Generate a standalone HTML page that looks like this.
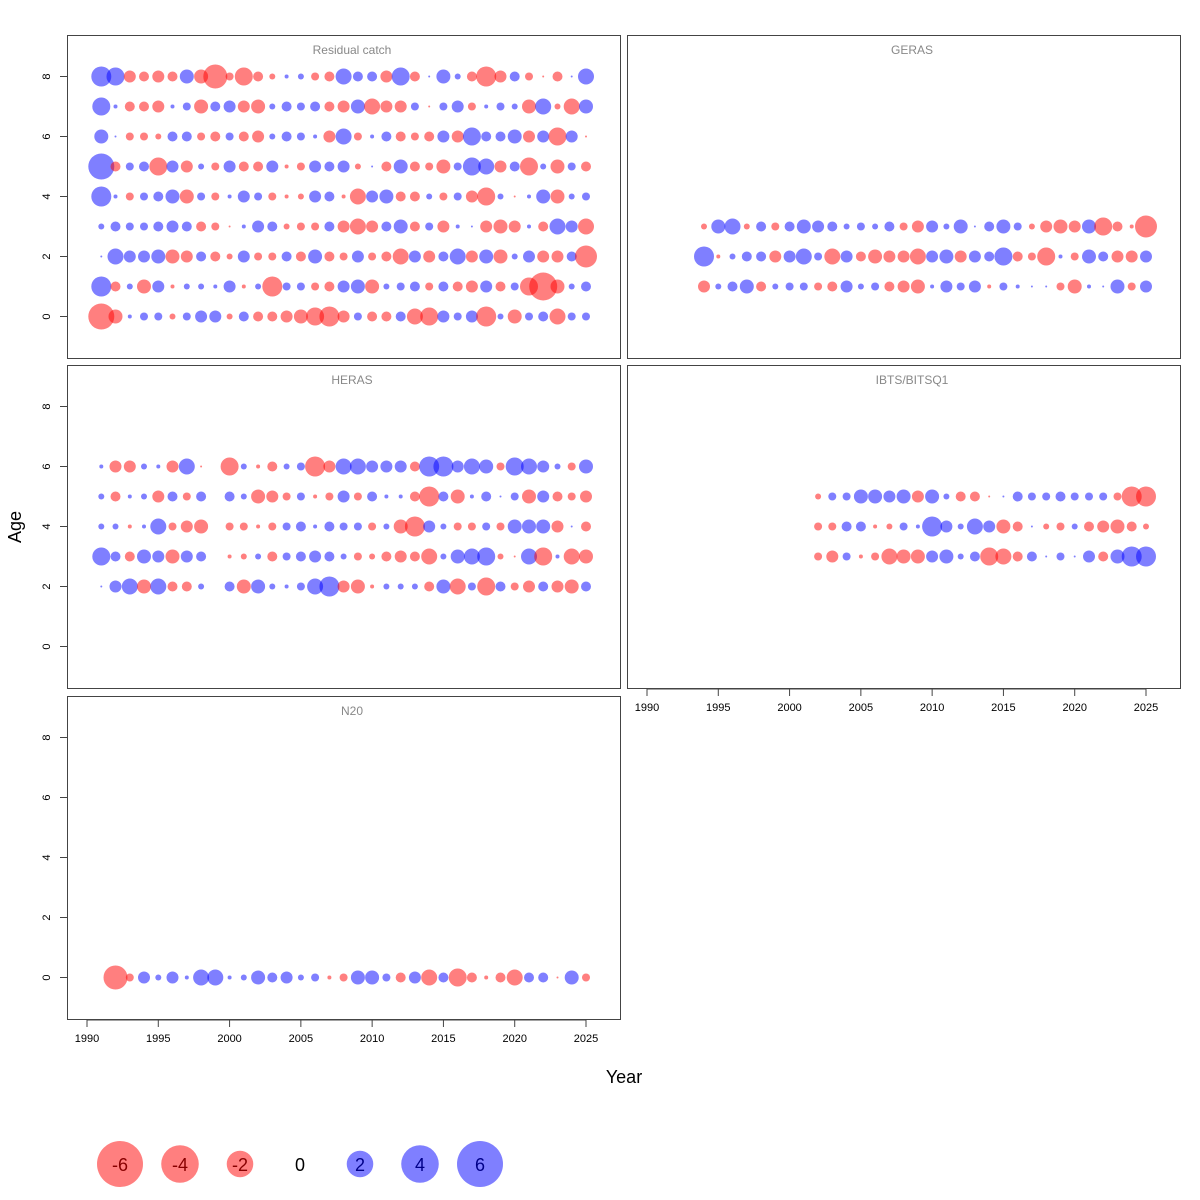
<!DOCTYPE html>
<html><head><meta charset="utf-8"><style>body{margin:0;background:#fff}svg{display:block}</style></head>
<body>
<svg id="s" width="1200" height="1200" xmlns="http://www.w3.org/2000/svg" font-family="Liberation Sans, sans-serif"></svg>
<script>
const S=document.getElementById('s');let h='';
const panels=[
 {x:67,y:35,t:'Residual catch',ax:0},{x:627,y:35,t:'GERAS',ax:0},
 {x:67,y:365,t:'HERAS',ax:0},{x:627,y:365,t:'IBTS/BITSQ1',ax:1},
 {x:67,y:696,t:'N20',ax:1}];
const W=553,H=323;
function X(p,yr){return p.x+20+(yr-1990)*499/35;}
function Y(p,a){return p.y+281.5-a*30;}
const D={};
D[0]={y0:1991,rows:{
8:[10,9,-6,-5,-6,-5,7,-7,-12,-4,-9,-5,-3,2,3,-4,-5,8,5,5,-6,9,-5,1,7,3,-5,-10,-6,5,-4,-1,-5,1,8],
7:[9,2,-5,-5,-6,2,4,-7,5,6,-6,-7,3,5,4,5,-5,-6,7,-8,-6,-6,4,-1,4,6,-4,2,4,3,-7,8,-3,-8,7],
6:[7,1,-4,-4,-3,5,5,-4,-5,4,-5,-6,3,5,4,2,-6,8,-4,2,5,-5,-4,-5,6,-6,9,5,5,7,-6,6,-9,6,-1],
5:[13,-5,4,5,-9,6,-6,3,-4,6,-5,-5,6,-2,-4,6,5,6,-3,1,-5,7,-5,-4,-7,4,9,8,-6,5,-9,3,-7,4,-5],
4:[10,2,-4,4,5,7,-7,4,-4,2,6,4,-4,-2,-3,6,5,-2,-8,6,7,-5,-5,3,-4,4,-6,-9,3,-1,2,7,-7,3,4],
3:[3,5,4,4,5,6,5,-5,-4,-1,2,6,5,-3,-4,-4,5,-6,-8,-6,5,7,-5,4,-6,2,1,-6,-7,-6,2,-5,8,6,-8],
2:[1,8,6,6,7,-7,-6,5,-5,-3,6,-4,-4,5,-5,7,-5,-4,6,-4,-5,-8,6,-6,5,8,-6,7,-7,3,6,-6,-6,5,-11],
1:[10,-5,3,-7,6,-2,3,3,2,6,-2,3,-10,4,4,-4,-5,6,7,-7,3,4,5,-4,5,-5,-6,6,-5,4,-9,-14,-7,3,5],
0:[-13,-7,2,4,4,-3,4,6,6,-3,5,-5,-5,-6,-7,-9,-10,-6,4,-5,-5,5,-8,-9,6,4,6,-10,3,-7,4,5,-8,4,4]}};
D[1]={y0:1994,rows:{
3:[-3,7,8,-3,5,-4,5,7,6,5,3,4,3,5,-4,-6,6,3,7,1,5,7,4,-3,-6,-7,-6,7,-9,-5,-2,-11],
2:[10,-2,3,5,5,-6,6,8,4,-8,6,-5,-7,-6,-6,-8,6,7,-6,6,5,9,-5,-4,-9,2,-4,7,5,-6,-6,6],
1:[-6,3,5,7,-5,3,4,4,-4,-5,6,3,4,-5,-6,-7,2,6,4,6,-2,4,2,1,1,-4,-7,2,1,7,-4,6]}};
const hy=[1991,1992,1993,1994,1995,1996,1997,1998];for(let y=2000;y<=2025;y++)hy.push(y);
D[2]={years:hy,rows:{
6:[2,-6,-6,3,2,-6,8,-1,-9,3,-2,-5,3,4,-10,-6,8,8,6,6,6,-5,10,10,6,8,7,-4,9,8,6,3,-4,7],
5:[3,-5,2,3,-6,5,-4,5,5,3,-7,-6,-4,4,-2,-4,6,-4,5,2,2,-5,-10,5,-7,2,5,1,4,-7,6,-5,-4,-6],
4:[3,3,-2,2,8,-4,-6,-7,-4,-4,-2,-4,4,5,2,5,4,4,-4,3,-7,-10,6,3,-4,-4,4,-4,7,7,7,-6,1,-5],
3:[9,5,-5,7,6,-7,6,5,-2,-3,3,-5,4,5,6,5,3,-4,-3,-5,-6,-5,-8,3,7,8,9,-3,-1,8,-9,2,-8,-7],
2:[1,6,8,-7,8,-5,-5,3,5,-7,7,3,2,4,8,10,-6,-7,-2,3,3,3,-5,7,-8,4,-9,5,-4,-6,5,-6,-7,5]}};
D[3]={y0:2002,rows:{
5:[-3,4,4,7,7,6,7,-6,7,3,-5,-5,-1,1,5,4,4,5,4,4,4,-4,-10,-10],
4:[-4,-4,5,5,-2,-3,4,2,10,6,3,8,6,-7,-5,1,-3,-4,3,-5,-6,-7,-5,-3],
3:[-4,-6,4,-2,-4,-8,-7,-7,6,7,3,5,-9,-8,-5,5,1,4,1,6,-5,7,10,10]}};
D[4]={y0:1992,rows:{0:[-12,-4,6,3,6,2,8,8,2,3,7,5,6,3,4,-2,-4,7,7,4,-5,6,-8,5,-9,-5,-2,-5,-8,5,5,-1,7,-4]}};
panels.forEach((p,i)=>{
 h+=`<rect x="${p.x+.5}" y="${p.y+.5}" width="${W}" height="${H}" fill="none" stroke="#444" stroke-width="1"/>`;
 h+=`<text x="${p.x+285}" y="${p.y+19}" font-size="12" fill="#888" text-anchor="middle">${p.t}</text>`;
 const d=D[i];
 for(const a in d.rows){d.rows[a].forEach((v,k)=>{const yr=d.years?d.years[k]:d.y0+k;const r=Math.max(Math.abs(v),0.8);
  h+=`<circle cx="${X(p,yr).toFixed(1)}" cy="${Y(p,+a)}" r="${r}" fill="${v<0?'rgba(255,0,0,0.5)':'rgba(0,0,255,0.5)'}"/>`;});}
 if(p.x<100){for(let a=0;a<=8;a+=2){const yy=Y(p,a);h+=`<line x1="60" x2="67" y1="${yy}" y2="${yy}" stroke="#444"/>`;
  h+=`<text transform="translate(47,${yy}) rotate(-90)" font-size="11" text-anchor="middle" dominant-baseline="central">${a}</text>`;}}
 if(p.ax){const by=p.y+H+1;for(let yr=1990;yr<=2025;yr+=5){const xx=X(p,yr);h+=`<line x1="${xx}" x2="${xx}" y1="${by}" y2="${by+7}" stroke="#444"/>`;
  h+=`<text x="${xx}" y="${by+22}" font-size="11" text-anchor="middle">${yr}</text>`;}
  h+=`<line x1="${X(p,1990)}" x2="${X(p,2025)}" y1="${by}" y2="${by}" stroke="#444"/>`;}
});
h+=`<text x="624" y="1083" font-size="18" text-anchor="middle">Year</text>`;
h+=`<text transform="translate(21,527) rotate(-90)" font-size="18" text-anchor="middle">Age</text>`;
[-6,-4,-2,0,2,4,6].forEach((v,k)=>{const x=120+k*60,r=23*Math.sqrt(Math.abs(v)/6);
 if(v)h+=`<circle cx="${x}" cy="1164" r="${r}" fill="${v<0?'rgba(255,0,0,0.5)':'rgba(0,0,255,0.5)'}"/>`;
 h+=`<text x="${x}" y="1171" font-size="18" text-anchor="middle" fill="${v<0?'#800':v>0?'#008':'#000'}">${v}</text>`;});
S.innerHTML=h;
</script>
</body></html>
